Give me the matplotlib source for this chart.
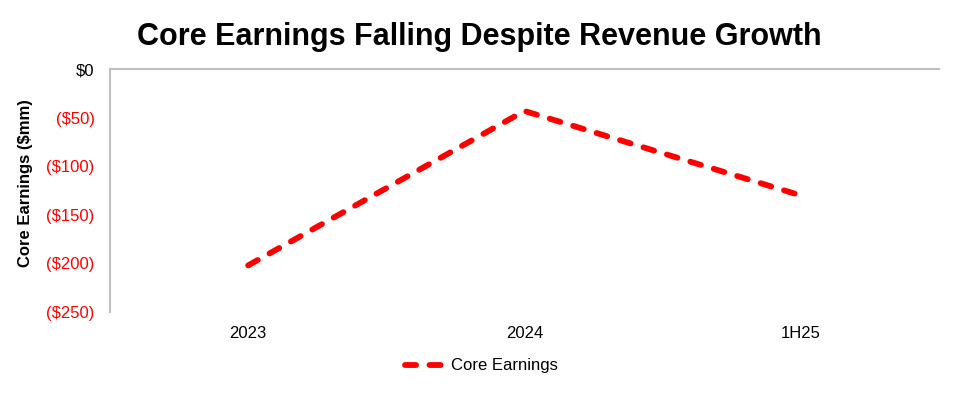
import matplotlib.pyplot as plt
from matplotlib.ticker import FuncFormatter

plt.rcParams['font.family'] = ['Liberation Sans', 'DejaVu Sans']

periods = ['2023', '2024', '1H25']
core_earnings = [-202, -43, -130]
y_ticks = [0, -50, -100, -150, -200, -250]


def money(v, pos=None):
    if v < 0:
        return '(${:.0f})'.format(-v)
    return '${:.0f}'.format(v)


fig = plt.figure(figsize=(9.59, 3.93), dpi=100)
ax = fig.add_axes([0.1147, 0.206, 0.8643, 0.618])

ax.plot(range(len(periods)), core_earnings, color='#ff0000', lw=4.2,
        dashes=(1.9, 2.3), dash_capstyle='round', label='Core Earnings')

ax.set_xlim(-0.5, len(periods) - 0.5)
ax.set_ylim(-250, 0)
ax.set_xticks(range(len(periods)))
ax.set_xticklabels(periods)
ax.set_yticks(y_ticks)
ax.yaxis.set_major_formatter(FuncFormatter(money))
ax.tick_params(axis='both', length=0, labelsize=12)
ax.tick_params(axis='y', pad=11)
ax.tick_params(axis='x', pad=10)
for lab, v in zip(ax.get_yticklabels(), y_ticks):
    lab.set_color('black' if v == 0 else '#ff0000')

for s in ['right', 'bottom']:
    ax.spines[s].set_visible(False)
for s in ['left', 'top']:
    ax.spines[s].set_color('#bfbfbf')
    ax.spines[s].set_linewidth(1.5)

fig.text(0.5, 0.905, 'Core Earnings Falling Despite Revenue Growth',
         ha='center', va='center', fontsize=22, fontweight='bold')
fig.text(0.027, 0.534, 'Core Earnings ($mm)', rotation=90,
         ha='center', va='center', fontsize=12, fontweight='bold')

fig.legend(loc='center', bbox_to_anchor=(0.502, 0.069), frameon=False,
           fontsize=12, handlelength=2.15, handletextpad=0.6)

fig.savefig('out.png', dpi=100)
